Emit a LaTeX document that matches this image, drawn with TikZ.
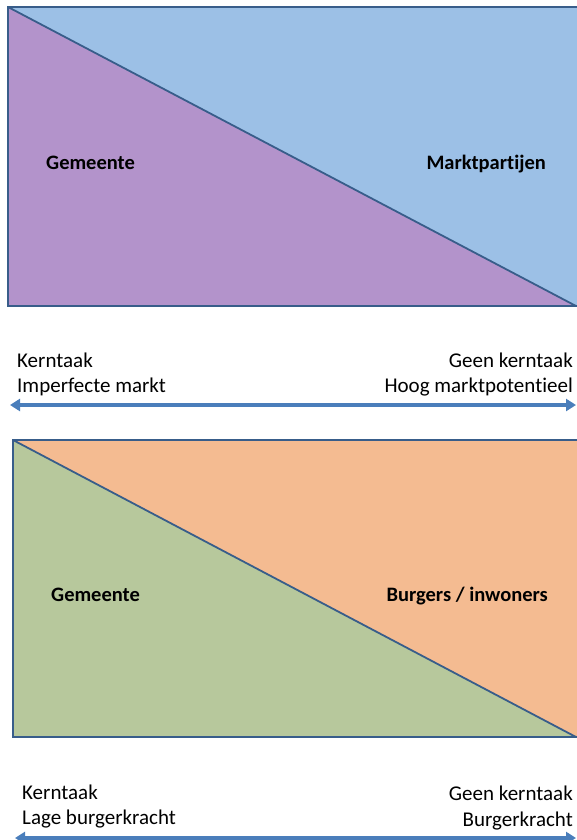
\documentclass[tikz,border=0pt]{standalone}
\usepackage{fontspec}
\setmainfont{Carlito}[Ligatures=NoCommon]
\usetikzlibrary{arrows.meta}
\definecolor{paars}{HTML}{B393CB}
\definecolor{lichtblauw}{HTML}{9CC0E6}
\definecolor{groen}{HTML}{B7C89C}
\definecolor{oranje}{HTML}{F4BB91}
\definecolor{rand}{HTML}{385D8A}
\definecolor{pijl}{HTML}{4A7EBB}
\tikzset{
	partij/.style={font=\bfseries\fontsize{20.5}{24}\selectfont, inner sep=0pt},
	as/.style={font=\fontsize{21}{25}\selectfont, inner sep=0pt, align=left},
	pijlas/.style={line width=3.5pt, color=pijl, {Triangle[length=10pt,width=12pt]}-{Triangle[length=10pt,width=12pt]}}
}

\begin{document}
\begin{tikzpicture}[x=1pt, y=-1pt]
			%%%%% START %%%%%
			\useasboundingbox (0, 0) rectangle (576, 840);
			
			% bovenste blok
			\fill[lichtblauw] (8, 7) rectangle (590, 306);
			\fill[paars] (8, 7) -- (576, 306) -- (8, 306) -- cycle;
			\draw[rand, line width=1.8pt] (8, 7) -- (576, 306);
			\draw[rand, line width=1.8pt] (590, 7) -- (8, 7) -- (8, 306) -- (590, 306);
			
			\node[partij, anchor=west] (gem1) at (46, 163) {Gemeente};
			\node[partij, anchor=east] (markt) at (546, 164) {Marktpartijen};
			
			\node[as, anchor=base west] (kern1) at (17, 367) {Kerntaak};
			\node[as, anchor=base west] (imp) at (17, 392) {Imperfecte\ markt};
			\node[as, anchor=base east] (geen1) at (573, 367) {Geen kerntaak};
			\node[as, anchor=base east] (hoog) at (573, 392) {Hoog marktpotentieel};
			
			\coordinate (links1) at (10, 405);
			\coordinate (rechts1) at (576, 405);
			\draw[pijlas] (links1) -- (rechts1);
			
			% onderste blok
			\fill[oranje] (13, 440) rectangle (590, 737);
			\fill[groen] (13, 440) -- (576, 737) -- (13, 737) -- cycle;
			\draw[rand, line width=1.8pt] (13, 440) -- (576, 737);
			\draw[rand, line width=1.8pt] (590, 440) -- (13, 440) -- (13, 737) -- (590, 737);
			
			\node[partij, anchor=west] (gem2) at (51, 595) {Gemeente};
			\node[partij, anchor=east] (burgers) at (548, 596) {Burgers / inwoners};
			
			\node[as, anchor=base west] (kern2) at (22, 799) {Kerntaak};
			\node[as, anchor=base west] (lage) at (22, 824) {Lage burgerkracht};
			\node[as, anchor=base east] (geen2) at (573, 800) {Geen kerntaak};
			\node[as, anchor=base east] (burgerkr) at (573, 826) {Burgerkracht};
			
			\coordinate (links2) at (15, 838);
			\coordinate (rechts2) at (576, 838);
			\draw[pijlas] (links2) -- (rechts2);
			
			%%%%% END %%%%%
		\end{tikzpicture}
\end{document}
